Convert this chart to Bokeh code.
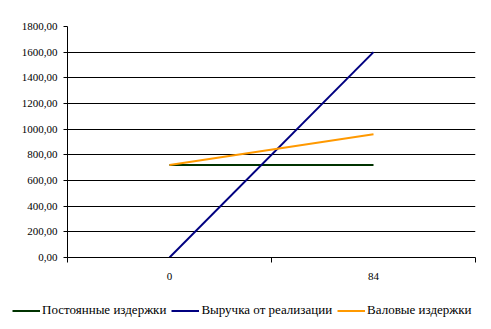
from bokeh.plotting import figure
from bokeh.layouts import column
from bokeh.models import Range1d, FixedTicker, Legend, LegendItem
from bokeh.embed import file_html
from bokeh.resources import INLINE

categories = ["0", "84"]
fixed_costs = [720, 720]
revenue = [0, 1600]
gross_costs = [720, 960]
y_ticks = [0, 200, 400, 600, 800, 1000, 1200, 1400, 1600, 1800]
y_tick_labels = ["0,00", "200,00", "400,00", "600,00", "800,00", "1000,00",
                 "1200,00", "1400,00", "1600,00", "1800,00"]
series_names = ["Постоянные издержки", "Выручка от реализации", "Валовые издержки"]
series_colors = ["#003300", "#000080", "#FF9900"]

FONT = "Liberation Serif"

xs = list(range(len(categories)))
series = [fixed_costs, revenue, gross_costs]

p = figure(width=491, height=290, output_backend="svg", toolbar_location=None,
           x_range=Range1d(-0.5, len(categories) - 0.5), y_range=Range1d(0, 1800),
           frame_width=408, frame_height=231,
           min_border_left=67, min_border_right=16, min_border_top=26, min_border_bottom=33)
p.frame_align = False
p.outline_line_color = None
p.background_fill_color = "white"
p.border_fill_color = "white"

p.xgrid.visible = False
p.ygrid.grid_line_color = "black"
p.ygrid.grid_line_width = 1

bounds = [i - 0.5 for i in range(len(categories) + 1)]
p.xaxis.ticker = FixedTicker(ticks=xs, minor_ticks=bounds)
p.xaxis.major_label_overrides = {i: c for i, c in enumerate(categories)}
p.xaxis.major_tick_out = 0
p.xaxis.major_tick_in = 0
p.xaxis.minor_tick_out = 5
p.xaxis.minor_tick_in = 0
p.xaxis.minor_tick_line_color = "black"
p.xaxis.axis_line_color = "black"
p.xaxis.major_label_standoff = 10
p.xaxis.major_label_text_font = FONT
p.xaxis.major_label_text_font_size = "11px"
p.xaxis.major_label_text_color = "black"

p.yaxis.ticker = FixedTicker(ticks=y_ticks, minor_ticks=[])
p.yaxis.major_label_overrides = {t: l for t, l in zip(y_ticks, y_tick_labels)}
p.yaxis.major_tick_out = 4
p.yaxis.major_tick_in = 0
p.yaxis.major_tick_line_color = "black"
p.yaxis.axis_line_color = "black"
p.yaxis.major_label_standoff = 6
p.yaxis.major_label_text_font = FONT
p.yaxis.major_label_text_font_size = "11px"
p.yaxis.major_label_text_color = "black"

for vals, col in zip(series, series_colors):
    p.line(xs, vals, line_color=col, line_width=2)

# legend strip below the chart (its lines lie outside its visible range)
p2 = figure(width=491, height=39, output_backend="svg", toolbar_location=None,
            x_range=Range1d(100, 101), y_range=Range1d(100, 101),
            x_axis_type=None, y_axis_type=None,
            min_border_left=0, min_border_right=0, min_border_top=0, min_border_bottom=0)
p2.frame_align = False
p2.outline_line_color = None
p2.grid.visible = False
p2.border_fill_color = "white"
p2.background_fill_color = "white"
items = []
for name, vals, col in zip(series_names, series, series_colors):
    r = p2.line(xs, vals, line_color=col, line_width=2)
    items.append(LegendItem(label=name, renderers=[r]))

legend = Legend(items=items, orientation="horizontal", location=(12, 11))
legend.label_text_font = FONT
legend.label_text_font_size = "13px"
legend.label_text_color = "black"
legend.border_line_alpha = 0
legend.background_fill_alpha = 0
legend.glyph_width = 28
legend.glyph_height = 15
legend.label_height = 15
legend.label_standoff = 2
legend.spacing = 5
legend.padding = 0
legend.margin = 0
p2.add_layout(legend, "center")

layout = column(p, p2, spacing=0)
open("out.html", "w").write(file_html(layout, INLINE))
